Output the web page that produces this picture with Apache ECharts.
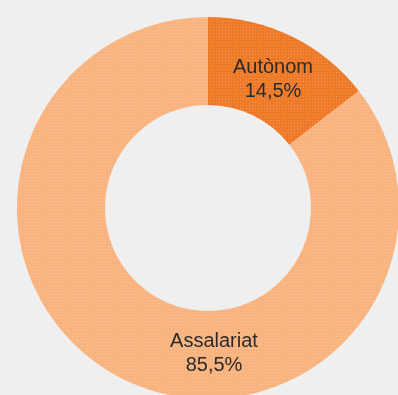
<!DOCTYPE html>
<html>
<head>
<meta charset="utf-8">
<script src="https://cdn.jsdelivr.net/npm/echarts@6/dist/echarts.min.js"></script>
<style>
  html, body { margin: 0; padding: 0; background: #efefef; }
  #chart { width: 398px; height: 395px; }
</style>
</head>
<body>
<div id="chart"></div>
<script>
// Employment status shares (%)
const categories = ['Autònom', 'Assalariat'];
const shares = [14.5, 85.5];
const sliceColors = ['#ee7a28', '#f9b37e'];

const CX = 208, CY = 208, R_IN = 103, R_OUT = 191;

// Fine dotted screen over the slices
const dotScreen = {
  symbol: 'rect',
  symbolSize: 1,
  color: 'rgba(255,255,255,0.22)',
  dashArrayX: [1, 2],
  dashArrayY: [1, 2],
  rotation: 0
};

const chart = echarts.init(document.getElementById('chart'), null, { renderer: 'canvas' });

chart.setOption({
  backgroundColor: '#efefef',
  animation: false,
  series: [{
    type: 'pie',
    center: [CX, CY],
    radius: [R_IN, R_OUT],
    startAngle: 90,
    clockwise: true,
    silent: true,
    data: categories.map((name, i) => ({
      name,
      value: shares[i],
      itemStyle: { color: sliceColors[i], decal: dotScreen }
    })),
    label: {
      show: true,
      position: 'inside',
      formatter: p => p.name + '\n' + p.value.toFixed(1).replace('.', ',') + '%',
      color: '#2b2b2b',
      fontFamily: 'Liberation Sans, Arial, sans-serif',
      fontSize: 20,
      lineHeight: 24,
      align: 'center'
    },
    labelLine: { show: false },
    labelLayout: function (params) {
      if (params.dataIndex === 0) {
        return { x: CX + 65, y: CY - 129, align: 'center', verticalAlign: 'middle' };
      }
      // The larger slice's label sits at the bottom of the ring
      return { x: CX + 6, y: CY + 145, align: 'center', verticalAlign: 'middle' };
    }
  }]
});
</script>
</body>
</html>
